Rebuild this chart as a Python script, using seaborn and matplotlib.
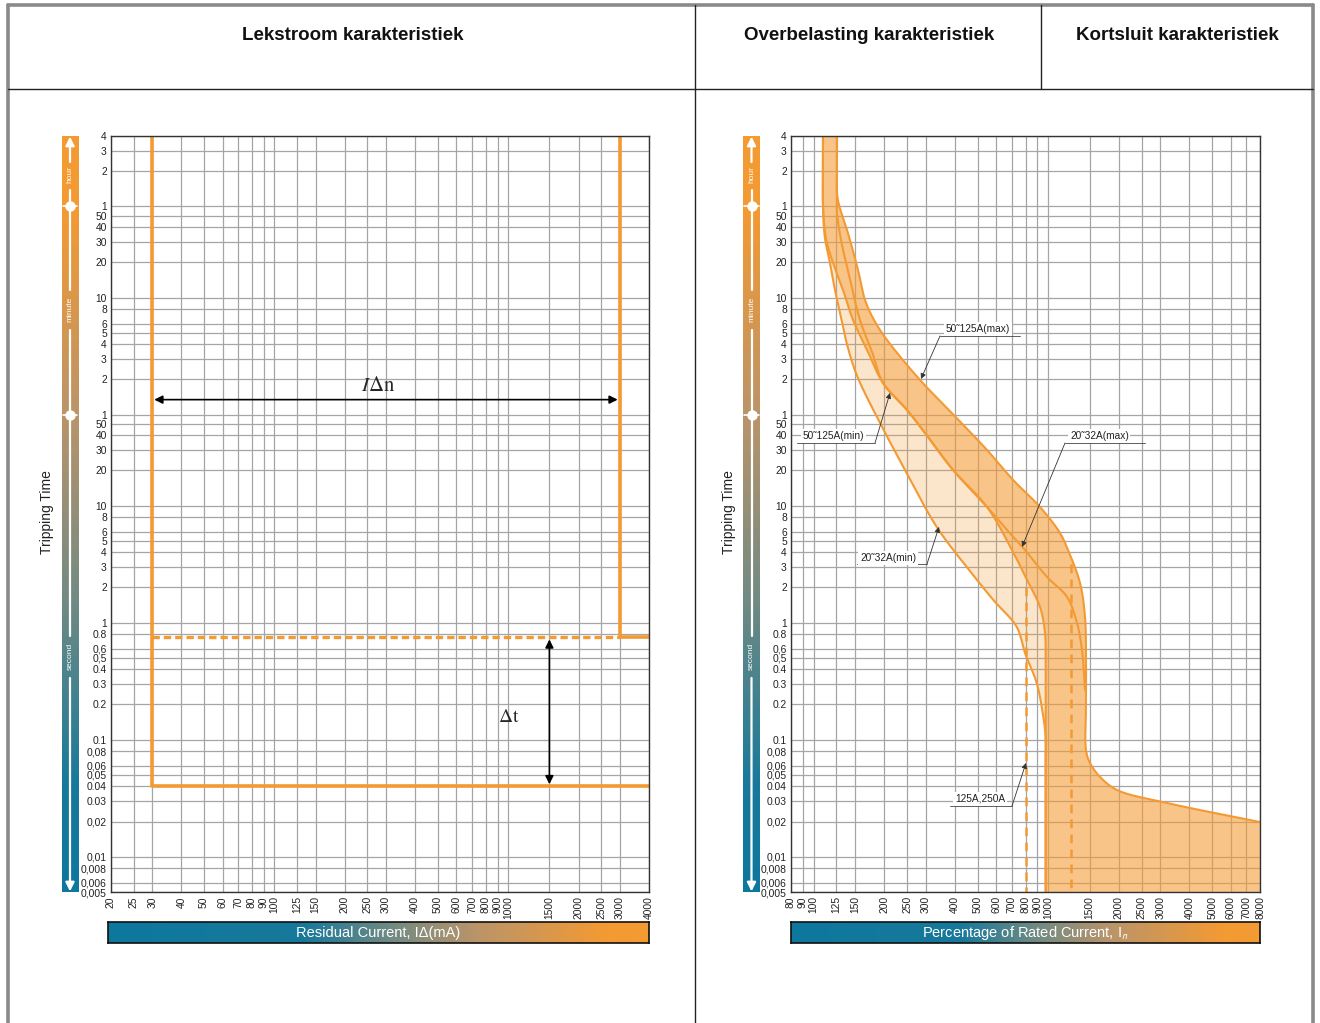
import matplotlib.pyplot as plt
import numpy as np
import seaborn as sns
from matplotlib.colors import LinearSegmentedColormap
from matplotlib.lines import Line2D

# ---------------- data ----------------
# tripping time axis, in seconds (hour / minute / second scale)
time_ticks = [14400, 10800, 7200, 3600, 3000, 2400, 1800, 1200, 600, 480, 360, 300,
              240, 180, 120, 60, 50, 40, 30, 20, 10, 8, 6, 5, 4, 3, 2, 1,
              0.8, 0.6, 0.5, 0.4, 0.3, 0.2, 0.1, 0.08, 0.06, 0.05, 0.04, 0.03,
              0.02, 0.01, 0.008, 0.006, 0.005]
time_labels = ["4", "3", "2", "1", "50", "40", "30", "20", "10", "8", "6", "5",
               "4", "3", "2", "1", "50", "40", "30", "20", "10", "8", "6", "5", "4", "3", "2", "1",
               "0.8", "0,6", "0,5", "0.4", "0.3", "0.2", "0.1", "0,08", "0,06", "0,05", "0.04", "0.03",
               "0,02", "0,01", "0,008", "0,006", "0,005"]

residual_ticks = [20, 25, 30, 40, 50, 60, 70, 80, 90, 100, 125, 150, 200, 250, 300,
                  400, 500, 600, 700, 800, 900, 1000, 1500, 2000, 2500, 3000, 4000]
rated_ticks = [80, 90, 100, 125, 150, 200, 250, 300, 400, 500, 600, 700, 800, 900,
               1000, 1500, 2000, 2500, 3000, 4000, 5000, 6000, 7000, 8000]

# Lekstroom karakteristiek (mA vs s)
rcd_main_ma = [30, 30, 4000]
rcd_main_s = [14400, 0.04, 0.04]
rcd_upper_ma = [3000, 3000, 4000]
rcd_upper_s = [14400, 0.75, 0.75]
rcd_dash_ma = [30, 3000]
rcd_dash_s = [0.75, 0.75]

# Overbelasting / kortsluit curves (% of In vs s)
c20_min_pct = [109.5, 109.5, 109.5, 111.5, 117.3, 123.2, 131.6, 138.2, 152.5, 191.7, 249.2, 334.5,
               449, 583, 734, 796, 893, 953, 975, 975, 975]
c20_min_s = [14400, 7000, 3706, 1975, 1184, 696, 386, 245, 130.8, 50.9, 19.0, 6.58,
             2.99, 1.565, 0.92, 0.551, 0.3055, 0.1565, 0.1056, 0.06, 0.005]

c50_min_pct = [109.5, 109.5, 109.5, 112.5, 118.5, 133.3, 147.1, 170.4, 197.5, 249.9, 298.2, 392.6,
               548.3, 700.7, 811.9, 922.5, 969, 975, 975, 975]
c50_min_s = [14400, 7000, 3706, 1975, 1332, 696, 386, 205.6, 111.7, 65.7, 41.8, 20.2,
             9.74, 4.18, 2.32, 1.363, 0.817, 0.481, 0.2, 0.005]

c20_max_pct = [125.7, 125.7, 125.7, 125.7, 130.7, 141.4, 157.5, 177.3, 197.5, 249.9, 298.2, 392.6,
               548.3, 667.2, 796, 988.2, 1202.5, 1326.6, 1393, 1435]
c20_max_s = [14400, 8000, 4339, 3167, 1862, 935, 386, 205.6, 111.7, 65.7, 41.8, 20.2,
             9.74, 6.20, 4.18, 2.46, 1.66, 0.995, 0.585, 0.266]

c50_max_pct = [125.7, 125.7, 125.7, 128.2, 138.7, 154.5, 165.5, 180.7, 205.4, 283.9, 352.4, 468.5,
               548.3, 707.7, 922.5, 1122.6, 1214.3, 1366, 1435, 1449, 1449, 1449, 1507, 1663, 1965,
               3210, 8000]
c50_max_s = [14400, 8000, 4692, 3706, 2266, 1032, 572, 386, 260.3, 118.5, 75.4, 41.8,
             29.9, 16.6, 9.74, 5.84, 4.18, 2.19, 1.12, 0.481, 0.2, 0.0818, 0.0633, 0.0481, 0.0372,
             0.0288, 0.0198]

# instantaneous (dashed) limits
inst_pct = [800, 1250]
inst_start_s = [2.0, 3.2]

# annotation labels on the right chart
ann_text = ["50˜125A(max)", "50˜125A(min)", "20˜32A(max)", "20˜32A(min)", "125A,250A"]
ann_text_x = [366, 90, 1239, 157.5, 400]
ann_text_y = [323, 39.4, 39.4, 3.57, 0.0312]
ann_line_x0 = [345.5, 84.9, 1179, 152.9, 381.2]
ann_line_x1 = [758, 182.5, 2586, 304.2, 700.7]
ann_line_y = [281.6, 34.3, 34.3, 3.18, 0.0272]
ann_corner_x = [345.5, 182.5, 1179, 304.2, 700.7]
ann_tip_x = [286.7, 211.5, 773, 342.2, 804]
ann_tip_y = [120.9, 91.8, 4.44, 6.58, 0.0633]

ORANGE = "#F39A33"
T_MIN, T_MAX = 0.005, 14400

sns.set_style("white")
plt.rcParams["font.family"] = ["Liberation Sans", "DejaVu Sans"]
plt.rcParams["mathtext.fontset"] = "stix"

W, H = 1320, 1023


def box(x0, y0, x1, y1):
    return [x0 / W, 1 - y1 / H, (x1 - x0) / W, (y1 - y0) / H]


def line(ax, xs, ys, **kw):
    kw.setdefault("color", ORANGE)
    sns.lineplot(x=xs, y=ys, ax=ax, sort=False, estimator=None, **kw)


def smooth(pct, sec, n=24):
    # centripetal Catmull-Rom through the read points, in log-log space
    p = np.column_stack([np.log10(pct), 0.5 * np.log10(sec)])
    p = np.vstack([2 * p[0] - p[1], p, 2 * p[-1] - p[-2]])
    out = []
    for i in range(1, len(p) - 2):
        p0, p1, p2, p3 = p[i - 1:i + 3]
        t0 = 0.0
        t1 = t0 + np.linalg.norm(p1 - p0) ** 0.5
        t2 = t1 + np.linalg.norm(p2 - p1) ** 0.5
        t3 = t2 + np.linalg.norm(p3 - p2) ** 0.5
        u = np.linspace(t1, t2, n, endpoint=False)[:, None]
        a1 = (t1 - u) / (t1 - t0) * p0 + (u - t0) / (t1 - t0) * p1
        a2 = (t2 - u) / (t2 - t1) * p1 + (u - t1) / (t2 - t1) * p2
        a3 = (t3 - u) / (t3 - t2) * p2 + (u - t2) / (t3 - t2) * p3
        b1 = (t2 - u) / (t2 - t0) * a1 + (u - t0) / (t2 - t0) * a2
        b2 = (t3 - u) / (t3 - t1) * a2 + (u - t1) / (t3 - t1) * a3
        out.append((t2 - u) / (t2 - t1) * b1 + (u - t1) / (t2 - t1) * b2)
    out.append(p[-2][None, :])
    pts = np.vstack(out)
    return 10 ** pts[:, 0], 10 ** (pts[:, 1] / 0.5)


def style_axes(ax, xticks, xlim):
    ax.set_xlim(xlim)
    ax.set_ylim(T_MIN, T_MAX)
    ax.set_xticks(xticks)
    ax.set_xticklabels([str(v) for v in xticks], rotation=90, fontsize=7.4, color="#222")
    ax.set_yticks(time_ticks)
    ax.set_yticklabels(time_labels, fontsize=7.4, color="#222")
    ax.minorticks_off()
    ax.grid(True, color="#a5a5a5", lw=0.9)
    ax.set_axisbelow(True)
    ax.tick_params(length=0, pad=3)
    ax.set_xlabel("")
    ax.set_ylabel("")
    for s in ax.spines.values():
        s.set_color("#333")
        s.set_linewidth(1)


fig = plt.figure(figsize=(13.2, 10.23), dpi=100)

ax_l = fig.add_axes(box(111, 136, 649, 892))
ax_r = fig.add_axes(box(791, 136, 1260, 892))
for ax in (ax_l, ax_r):
    ax.set_xscale("log")
    ax.set_yscale("log")

# ---- left: residual current ----
line(ax_l, rcd_main_ma, rcd_main_s, lw=2.6)
line(ax_l, rcd_upper_ma, rcd_upper_s, lw=2.6)
line(ax_l, rcd_dash_ma, rcd_dash_s, lw=2.4, linestyle=(0, (2.2, 1.2)))
style_axes(ax_l, residual_ticks, (20, 4000))

arrow = dict(arrowstyle="<|-|>", color="black", lw=1.2, mutation_scale=12, shrinkA=1.5, shrinkB=1.5)
ax_l.annotate("", xy=(3000, 80.5), xytext=(30, 80.5), arrowprops=arrow)
ax_l.annotate("", xy=(1500, 0.04), xytext=(1500, 0.75), arrowprops=arrow)
ax_l.text(277, 106, r"$I\Delta\mathrm{n}$", fontsize=15, ha="center", va="center")
ax_l.text(1010, 0.154, r"$\Delta\mathrm{t}$", fontsize=14, ha="center", va="center")

# ---- right: overload / short circuit ----
a_x, a_t = smooth(c20_min_pct, c20_min_s)
b_x, b_t = smooth(c50_min_pct, c50_min_s)
c_x, c_t = smooth(c20_max_pct, c20_max_s)
d_x, d_t = smooth(c50_max_pct, c50_max_s)

ax_r.fill(np.r_[a_x, b_x[::-1]], np.r_[a_t, b_t[::-1]], color=ORANGE, alpha=0.25, lw=0)
ax_r.fill(np.r_[b_x, rated_ticks[-1], d_x[::-1]], np.r_[b_t, T_MIN, d_t[::-1]],
          color=ORANGE, alpha=0.58, lw=0)

for xs, ts in [(a_x, a_t), (b_x, b_t), (c_x, c_t), (d_x, d_t)]:
    line(ax_r, xs, ts, lw=1.5)
for pct, start in zip(inst_pct, inst_start_s):
    line(ax_r, [pct, pct], [start, T_MIN], lw=1.8, linestyle=(0, (3.5, 2.5)))
style_axes(ax_r, rated_ticks, (80, 8000))

for i, txt in enumerate(ann_text):
    ax_r.text(ann_text_x[i], ann_text_y[i], txt, fontsize=7.3, ha="left", va="center", color="#222",
              bbox=dict(facecolor="white", edgecolor="none", pad=1.2))
    ax_r.plot([ann_line_x0[i], ann_line_x1[i]], [ann_line_y[i], ann_line_y[i]], color="#444", lw=0.6)
    ax_r.annotate("", xy=(ann_tip_x[i], ann_tip_y[i]), xytext=(ann_corner_x[i], ann_line_y[i]),
                  arrowprops=dict(arrowstyle="-|>", color="#333", lw=0.6, mutation_scale=8,
                                  shrinkA=0, shrinkB=0))

# ---- gradient scale bars ----
cmap_v = LinearSegmentedColormap.from_list(
    "tv", [(0, "#F39A33"), (0.1, "#F39A33"), (0.37, "#BA946A"), (0.62, "#6F8A84"),
           (0.86, "#17799B"), (1, "#0E779E")])
cmap_h = LinearSegmentedColormap.from_list(
    "th", [(0, "#0E779E"), (0.36, "#17799B"), (0.52, "#6F8A84"), (0.68, "#BA946A"),
           (0.92, "#F39A33"), (1, "#F39A33")])

lo, hi = np.log10(T_MIN), np.log10(T_MAX)
white_arrow = dict(arrowstyle="-|>", color="white", lw=1.6, mutation_scale=13, shrinkA=0, shrinkB=0)
for x0, x1, lab_x in [(62, 78, 47), (743, 760, 729)]:
    axb = fig.add_axes(box(x0, 136, x1, 892))
    axb.imshow(np.linspace(0, 1, 256)[:, None], cmap=cmap_v, aspect="auto", extent=[0, 1, lo, hi])
    axb.set_xlim(0, 1)
    axb.set_ylim(lo, hi)
    axb.axis("off")
    # white time arrow with gaps for the unit names
    axb.annotate("", xy=(0.5, hi - 0.005), xytext=(0.5, np.log10(8636)), arrowprops=white_arrow)
    axb.plot([0.5, 0.5], [np.log10(4979), np.log10(696)], color="white", lw=1.6)
    axb.plot([0.5, 0.5], [np.log10(317), np.log10(0.77)], color="white", lw=1.6)
    axb.annotate("", xy=(0.5, lo + 0.005), xytext=(0.5, np.log10(0.337)), arrowprops=white_arrow)
    for t in (3600, 60):
        axb.plot([0.05, 0.95], [np.log10(t)] * 2, color="white", lw=1.2)
        axb.plot(0.5, np.log10(t), "o", color="white", ms=6.5)
    for name, t in [("hour", 6687), ("minute", 479), ("second", 0.52)]:
        axb.text(0.5, np.log10(t), name, rotation=90, color="white", fontsize=6,
                 ha="center", va="center")
    fig.text(lab_x / W, 1 - 512 / H, "Tripping Time", rotation=90, fontsize=10,
             ha="center", va="center", color="#222")

for x0, x1, label in [(108, 649, "Residual Current, IΔ(mA)"),
                      (791, 1260, r"Percentage of Rated Current, I$_{\mathsf{n}}$")]:
    axh = fig.add_axes(box(x0, 922, x1, 943))
    axh.imshow(np.linspace(0, 1, 256)[None, :], cmap=cmap_h, aspect="auto", extent=[0, 1, 0, 1])
    axh.set_xlim(0, 1)
    axh.set_ylim(0, 1)
    axh.set_xticks([])
    axh.set_yticks([])
    for s in axh.spines.values():
        s.set_color("#111")
        s.set_linewidth(1.2)
    axh.text(0.5, 0.5, label, color="white", fontsize=10.5, ha="center", va="center")

# ---- header frame ----
gray = dict(color="#8a8a8a", lw=2.6, transform=fig.transFigure)
dark = dict(color="#222", lw=1.0, transform=fig.transFigure)
fig.add_artist(Line2D([8 / W, 1313 / W], [1 - 5 / H, 1 - 5 / H], **gray))
fig.add_artist(Line2D([8 / W, 8 / W], [1 - 5 / H, 0], **gray))
fig.add_artist(Line2D([1313 / W, 1313 / W], [1 - 5 / H, 0], **gray))
fig.add_artist(Line2D([8 / W, 1313 / W], [1 - 89 / H, 1 - 89 / H], **dark))
fig.add_artist(Line2D([695 / W, 695 / W], [1 - 5 / H, 0], **dark))
fig.add_artist(Line2D([1041 / W, 1041 / W], [1 - 5 / H, 1 - 89 / H], **dark))

for x, title in [(353, "Lekstroom karakteristiek"), (869, "Overbelasting karakteristiek"),
                 (1177, "Kortsluit karakteristiek")]:
    fig.text(x / W, 1 - 35 / H, title, fontsize=13.5, fontweight="bold", ha="center", va="center",
             color="#111")

fig.savefig("out.png", dpi=100)
